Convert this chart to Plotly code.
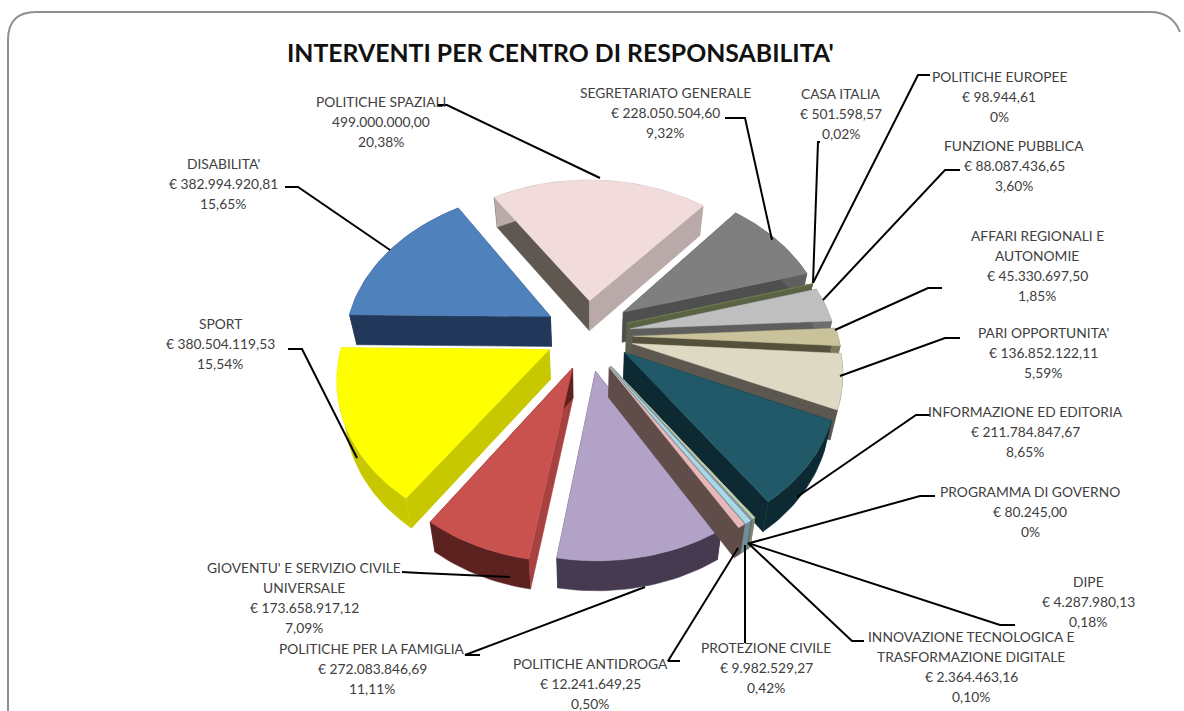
import numpy as np
import plotly.graph_objects as go

# ---- data ----
names = ["POLITICHE SPAZIALI", "SEGRETARIATO GENERALE", "CASA ITALIA", "POLITICHE EUROPEE",
         "FUNZIONE PUBBLICA", "AFFARI REGIONALI E AUTONOMIE", "PARI OPPORTUNITA'",
         "INFORMAZIONE ED EDITORIA", "PROGRAMMA DI GOVERNO", "DIPE",
         "INNOVAZIONE TECNOLOGICA E TRASFORMAZIONE DIGITALE", "PROTEZIONE CIVILE",
         "POLITICHE ANTIDROGA", "POLITICHE PER LA FAMIGLIA",
         "GIOVENTU' E SERVIZIO CIVILE UNIVERSALE", "SPORT", "DISABILITA'"]
values = [499000000.00, 228050504.60, 501598.57, 98944.61, 88087436.65, 45330697.50,
          136852122.11, 211784847.67, 80245.00, 4287980.13, 2364463.16, 9982529.27,
          12241649.25, 272083846.69, 173658917.12, 380504119.53, 382994920.81]
label_lines = [
    ["POLITICHE SPAZIALI", "499.000.000,00", "20,38%"],
    ["SEGRETARIATO GENERALE", "€ 228.050.504,60", "9,32%"],
    ["CASA ITALIA", "€ 501.598,57", "0,02%"],
    ["POLITICHE EUROPEE", "€ 98.944,61", "0%"],
    ["FUNZIONE PUBBLICA", "€ 88.087.436,65", "3,60%"],
    ["AFFARI REGIONALI E", "AUTONOMIE", "€ 45.330.697,50", "1,85%"],
    ["PARI OPPORTUNITA'", "€ 136.852.122,11", "5,59%"],
    ["INFORMAZIONE ED EDITORIA", "€ 211.784.847,67", "8,65%"],
    ["PROGRAMMA DI GOVERNO", "€ 80.245,00", "0%"],
    ["DIPE", "€ 4.287.980,13", "0,18%"],
    ["INNOVAZIONE TECNOLOGICA E", "TRASFORMAZIONE DIGITALE", "€ 2.364.463,16", "0,10%"],
    ["PROTEZIONE CIVILE", "€ 9.982.529,27", "0,42%"],
    ["POLITICHE ANTIDROGA", "€ 12.241.649,25", "0,50%"],
    ["POLITICHE PER LA FAMIGLIA", "€ 272.083.846,69", "11,11%"],
    ["GIOVENTU' E SERVIZIO CIVILE", "UNIVERSALE", "€ 173.658.917,12", "7,09%"],
    ["SPORT", "€ 380.504.119,53", "15,54%"],
    ["DISABILITA'", "€ 382.994.920,81", "15,65%"],
]
title = "INTERVENTI PER CENTRO DI RESPONSABILITA'"

# ---- styles / layout ----
explode = [.27, .22, .21, .21, .21, .21, .21, .20, .20, .20, .20, .20, .20, .14, .22, .22, .23]
radius = [1, 1, 1, 1, 1, 1, 1, 1, 1, 1, 1, 1, 1, 1.0, 1, 1, 1]
nudge_x = [-4, -4, -4, -4, -2, 0, 0, 2, -3, -3, -3, -3, -3, 0, 0, 0, 1]
nudge_y = [2, -8, -6, -6, -4, -2, -2, -5, 3, 3, 3, 3, 3, 12, -2, -4, -5]
top_col = ["#f2dcdb", "#7f7f7f", "#76805a", "#76805a", "#bfbfbf", "#c9c29b", "#ddd9c3",
           "#215968", "#c4d0b0", "#c4d0b0", "#8c9aa0", "#a9d9e8", "#e6b9b8",
           "#b3a2c7", "#c9524f", "#ffff00", "#4f81bd"]
wall_col = ["#b9a9a8", "#5f5f5f", "#5a6344", "#5a6344", "#6e6e6e", "#7d7759", "#5c5850",
            "#0d2a33", "#7d8a70", "#7d8a70", "#5f6f75", "#6f8f98", "#604c48",
            "#453a50", "#5c2220", "#c8c800", "#22385a"]
start_col = ["#5f5850", "#55585c", "#5a6344", "#5a6344", "#5e5e5e", "#55503c", "#5c5850",
             "#0d2a33", "#7d8a70", "#7d8a70", "#5f6f75", "#6f8f98", "#604c48",
             "#453a50", "#a84240", "#c8c800", "#22385a"]
end_col = ["#b9a9a8", "#4f4f4f", "#5a6344", "#5a6344", "#5e5e5e", "#55503c", "#5c5850",
           "#0d2a33", "#7d8a70", "#7d8a70", "#5f6f75", "#6f8f98", "#604c48",
           "#453a50", "#5c2220", "#c8c800", "#22385a"]
label_x = [381, 665, 841, 999, 1014, 1037, 1043, 1025, 1030, 1088, 971, 766, 590, 372, 304, 220, 223]
label_y = [101, 92, 93, 76, 145, 235, 332, 411, 491, 581, 636, 647, 663, 648, 567, 323, 163]
leaders = [
    [(437, 105), (447, 105), (600, 178)],
    [(725, 118), (745, 118), (772, 240)],
    [(820, 142), (818, 142), (813, 283)],
    [(930, 75), (918, 75), (813, 283)],
    [(960, 170), (945, 170), (823, 300)],
    [(942, 288), (928, 288), (835, 330)],
    [(960, 338), (945, 338), (840, 376)],
    [(930, 415), (916, 415), (797, 497)],
    [(935, 496), (920, 496), (750, 543)],
    [(1015, 625), (1000, 625), (748, 543)],
    [(864, 641), (852, 641), (748, 543)],
    [(745, 643), (745, 545)],
    [(680, 661), (668, 661), (738, 548)],
    [(480, 655), (465, 655), (645, 587)],
    [(402, 572), (420, 573), (510, 577)],
    [(288, 349), (302, 349), (357, 458)],
    [(285, 187), (298, 187), (390, 250)],
]
CX, CY, RX, RY, K, DEPTH, LOWER_X = 590, 338, 205, 151.6, 0.16, 30, 0.97
START = -33.0
FONT = "Lato"
LINE_H = 20.3


def project(px, pn):
    """px = model right, pn = model toward viewer"""
    s = 1 / (1 - K * pn)
    return CX + RX * px * s, CY + RY * pn * s


def low(x):
    return CX + (np.asarray(x, dtype=float) - CX) * LOWER_X


fracs = np.array(values) / np.sum(values)
edges = START + 360 * np.concatenate([[0], np.cumsum(fracs)])


def poly(fig, xs, ys, color, name=None):
    fig.add_trace(go.Scatter(x=list(xs), y=list(ys), mode="lines", fill="toself", fillcolor=color,
                             line=dict(color=color, width=0.5), showlegend=False,
                             hoverinfo="text" if name else "skip", text=name))


fig = go.Figure()
mids = (edges[:-1] + edges[1:]) / 2
order = sorted(range(len(values)), key=lambda i: -np.cos(np.radians(mids[i])))
# the narrow slices sit in front of their neighbour below
order = [i for i in order if i != 13]
order.insert(order.index(12) if 12 in order else 0, 13)
for i in order:
    a0, a1, am = np.radians(edges[i]), np.radians(edges[i + 1]), np.radians(mids[i])
    ex, en = explode[i] * np.sin(am), -explode[i] * np.cos(am)
    th = np.linspace(a0, a1, max(3, int(abs(edges[i + 1] - edges[i]) / 1.5) + 2))
    ax, ay = project(ex, en)
    rx, ry = project(ex + radius[i] * np.sin(th), en - radius[i] * np.cos(th))
    ax, ay = ax + nudge_x[i], ay + nudge_y[i]
    rx, ry = rx + nudge_x[i], ry + nudge_y[i]
    lax, lrx = float(low(ax)), low(rx)
    # radial cut faces
    poly(fig, [ax, rx[0], lrx[0], lax, ax], [ay, ry[0], ry[0] + DEPTH, ay + DEPTH, ay], start_col[i])
    poly(fig, [ax, rx[-1], lrx[-1], lax, ax], [ay, ry[-1], ry[-1] + DEPTH, ay + DEPTH, ay], end_col[i])
    # outer wall
    poly(fig, list(rx) + list(lrx[::-1]), list(ry) + list(ry[::-1] + DEPTH), wall_col[i])
    # top surface
    poly(fig, [ax] + list(rx) + [ax], [ay] + list(ry) + [ay], top_col[i], names[i])

for pts in leaders:
    fig.add_trace(go.Scatter(x=[p[0] for p in pts], y=[p[1] for p in pts], mode="lines",
                             line=dict(color="#000000", width=2), showlegend=False,
                             hoverinfo="skip"))

anns = [dict(x=560, y=52, text=f"<b>{title}</b>", showarrow=False, xanchor="center",
             yanchor="middle", font=dict(family=FONT, size=24.8, color="#111111"))]
for lines, lx, ly in zip(label_lines, label_x, label_y):
    for j, t in enumerate(lines):
        anns.append(dict(x=lx, y=ly + j * LINE_H, text=t, showarrow=False, xanchor="center",
                         yanchor="middle", font=dict(family=FONT, size=13.8, color="#404040")))

frame = "M8,711 L8,40 Q8,12 36,12 L1150,12 Q1172,12 1180,32"
fig.update_layout(
    width=1184, height=711, margin=dict(l=0, r=0, t=0, b=0), autosize=False,
    paper_bgcolor="white", plot_bgcolor="white", annotations=anns,
    xaxis=dict(range=[0, 1184], visible=False, fixedrange=True),
    yaxis=dict(range=[711, 0], visible=False, fixedrange=True),
    shapes=[dict(type="path", path=frame, line=dict(color="#8f8f8f", width=2), layer="below")],
)
fig.write_html("out.html", config={"displayModeBar": False},
               post_script="document.body.style.margin='0';document.body.style.overflow='hidden';")
